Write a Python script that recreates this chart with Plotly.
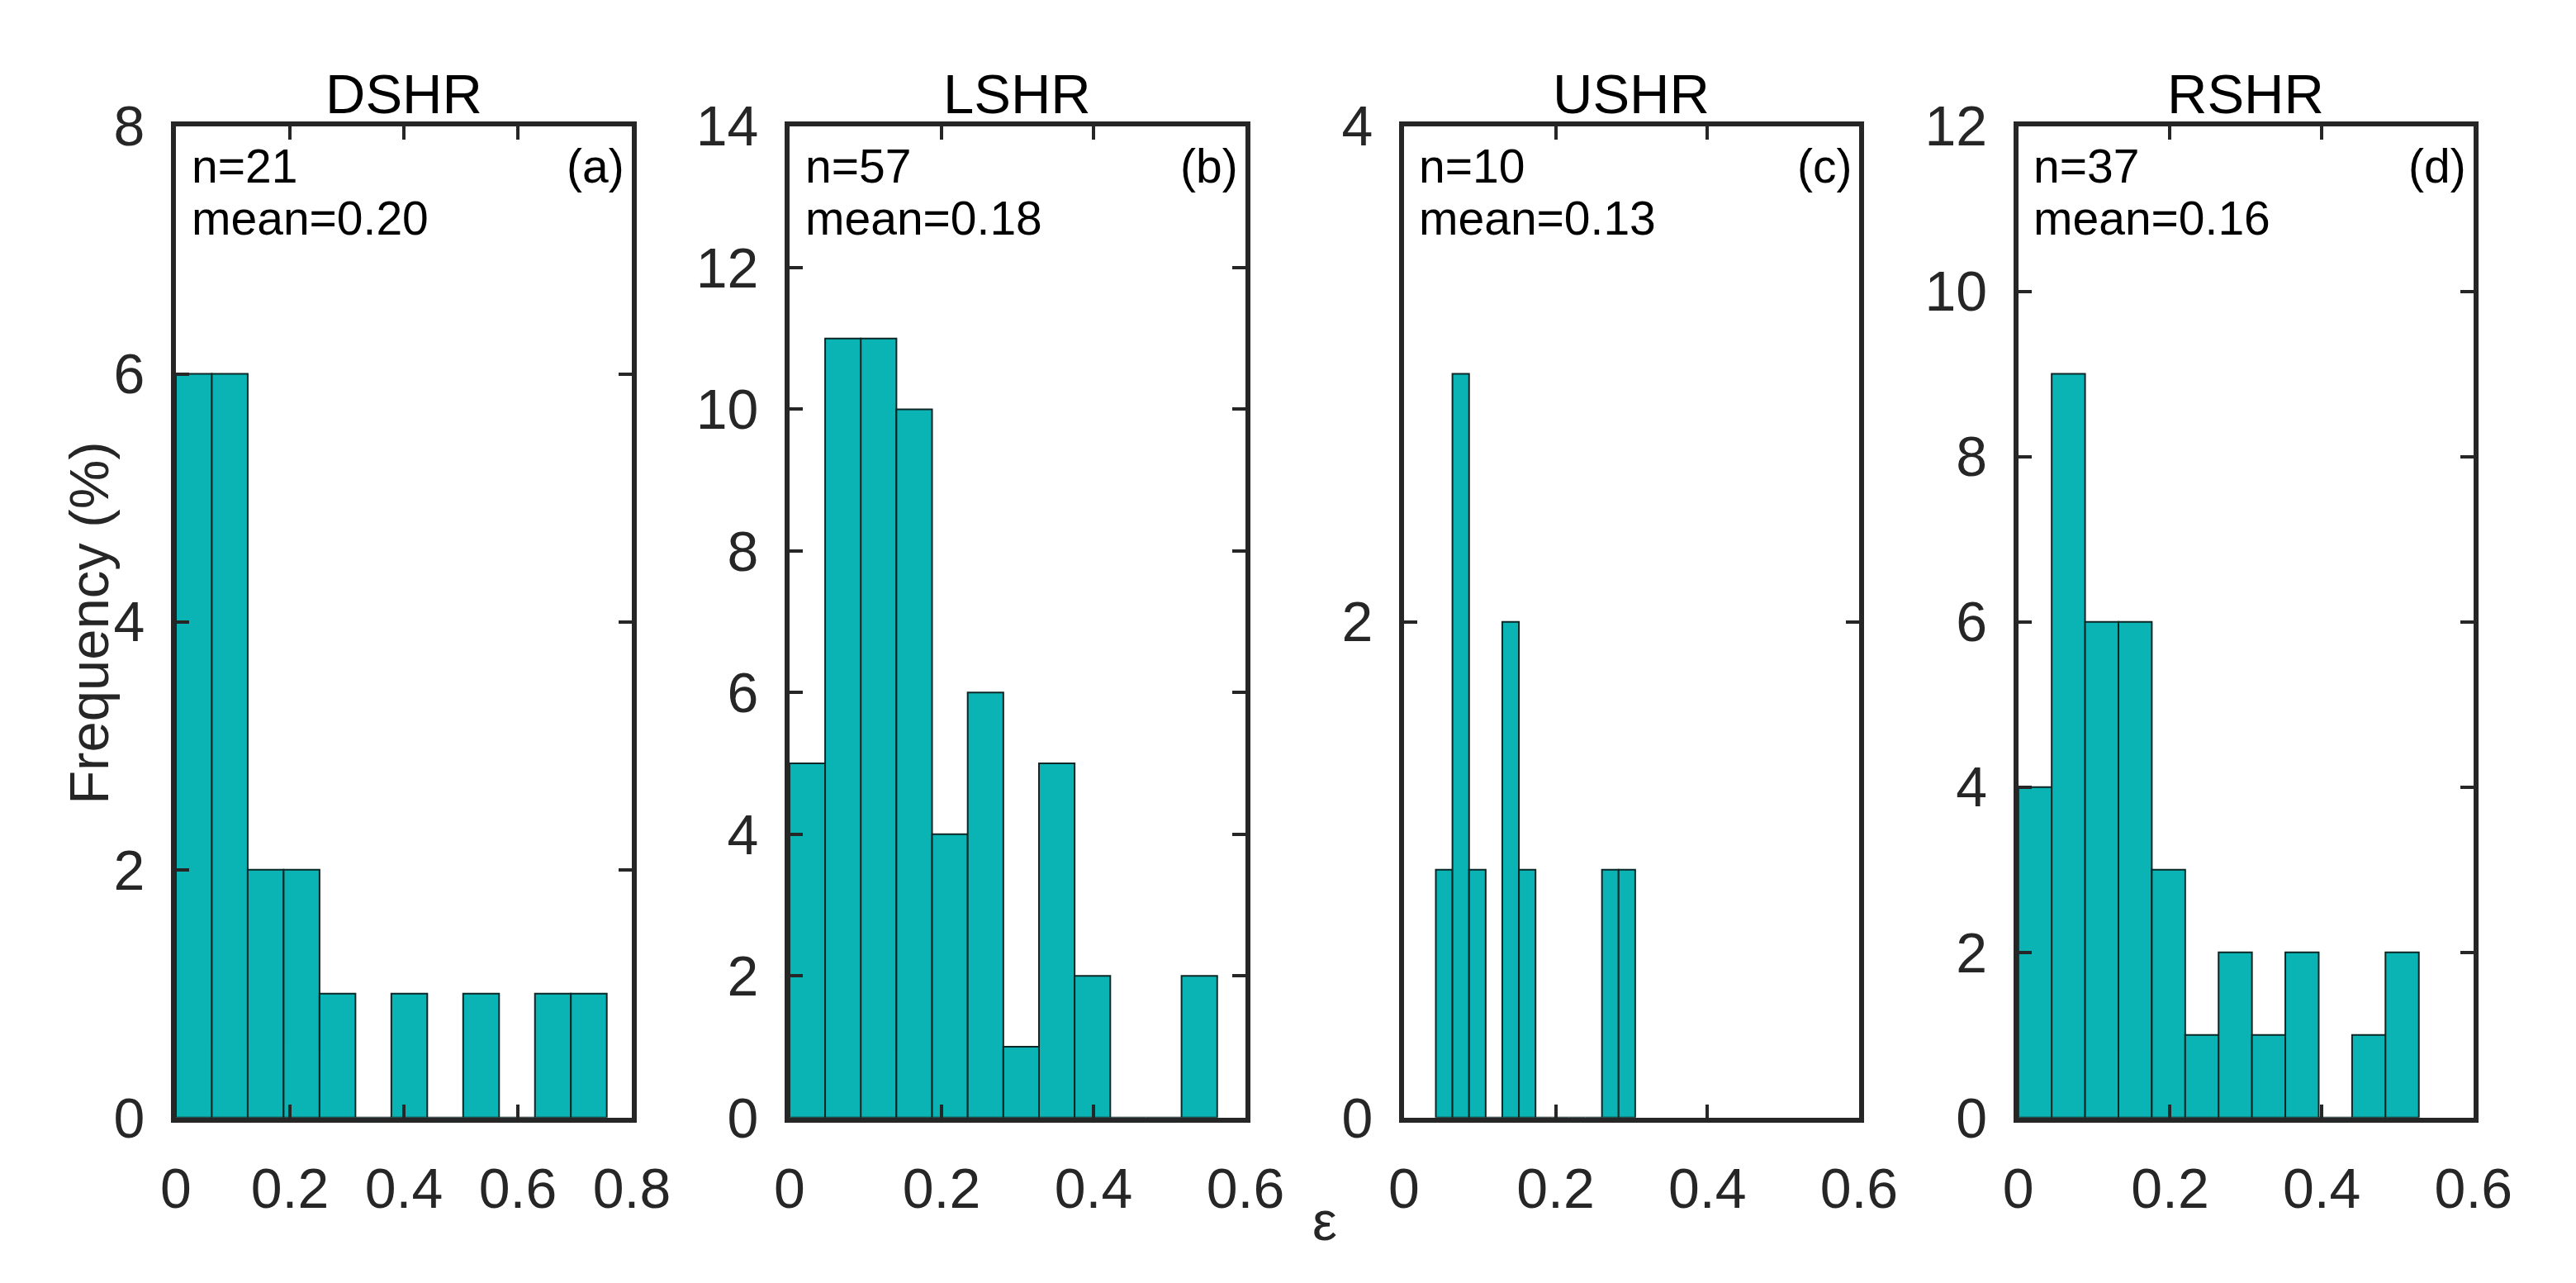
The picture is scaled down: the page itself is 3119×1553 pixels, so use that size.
import plotly.graph_objects as go

W, H = 3119, 1553

titles = ["DSHR", "LSHR", "USHR", "RSHR"]
panel_tags = ["(a)", "(b)", "(c)", "(d)"]
n_labels = ["n=21", "n=57", "n=10", "n=37"]
mean_labels = ["mean=0.20", "mean=0.18", "mean=0.13", "mean=0.16"]

edges_a = [0, 0.063, 0.126, 0.189, 0.252, 0.315, 0.378, 0.441, 0.504, 0.567, 0.630, 0.693, 0.756]
counts_a = [6, 6, 2, 2, 1, 0, 1, 0, 1, 0, 1, 1]

edges_b = [0, 0.0469, 0.0938, 0.1407, 0.1876, 0.2345, 0.2814, 0.3283, 0.3752, 0.4221, 0.469, 0.5159, 0.5628]
counts_b = [5, 11, 11, 10, 4, 6, 1, 5, 2, 0, 0, 2]

edges_c = [0.0421, 0.064, 0.0859, 0.1078, 0.1297, 0.1516, 0.1735, 0.1954, 0.2173, 0.2392, 0.2611, 0.283, 0.3049]
counts_c = [1, 3, 1, 0, 2, 1, 0, 0, 0, 0, 1, 1]

edges_d = [0, 0.044, 0.088, 0.132, 0.176, 0.22, 0.264, 0.308, 0.352, 0.396, 0.44, 0.484, 0.528]
counts_d = [4, 9, 6, 6, 3, 1, 2, 1, 2, 0, 1, 2]

x_ranges = [[0, 0.8], [0, 0.6], [0, 0.6], [0, 0.6]]
x_ticks = [[0, 0.2, 0.4, 0.6, 0.8], [0, 0.2, 0.4, 0.6], [0, 0.2, 0.4, 0.6], [0, 0.2, 0.4, 0.6]]
y_ranges = [[0, 8], [0, 14], [0, 4], [0, 12]]
y_dticks = [2, 2, 2, 2]

x_label = "ε"
y_label = "Frequency (%)"

edges_all = [edges_a, edges_b, edges_c, edges_d]
counts_all = [counts_a, counts_b, counts_c, counts_d]

# layout geometry (pixels)
lefts = [190, 949, 1709, 2469]
rights = [754, 1513, 2272, 3032]
top_px, bot_px = 112, 1374

FONT = "Liberation Sans, Arial, Helvetica, sans-serif"
TEAL = "#0bb4b4"
FRAME = "#262626"

fig = go.Figure()
layout = dict(
    width=W, height=H,
    margin=dict(l=0, r=0, t=0, b=0),
    paper_bgcolor="white", plot_bgcolor="white",
    showlegend=False,
    font=dict(family=FONT, color=FRAME),
    barmode="overlay",
)
annotations = []
ydom = [1 - bot_px / H, 1 - top_px / H]

for i in range(4):
    sfx = "" if i == 0 else str(i + 1)
    e = edges_all[i]
    c = counts_all[i]
    centers = [(e[k] + e[k + 1]) / 2 for k in range(len(c))]
    widths = [e[k + 1] - e[k] for k in range(len(c))]
    fig.add_trace(go.Bar(
        x=centers, y=c, width=widths,
        marker=dict(color=TEAL, line=dict(color="#0d2626", width=2)),
        xaxis="x" + sfx, yaxis="y" + sfx,
        hoverinfo="skip",
    ))
    xdom = [lefts[i] / W, rights[i] / W]
    common = dict(
        showline=True, linewidth=6, linecolor=FRAME, mirror="ticks",
        ticks="inside", ticklen=16, tickwidth=4, tickcolor=FRAME,
        showgrid=False, zeroline=False,
        tickfont=dict(family=FONT, size=68, color=FRAME),
        fixedrange=True,
    )
    layout["xaxis" + sfx] = dict(
        domain=xdom, anchor="y" + sfx, range=x_ranges[i],
        tickmode="array", tickvals=x_ticks[i],
        ticktext=[("%g" % v) for v in x_ticks[i]],
        ticklabelstandoff=22,
        **common,
    )
    layout["yaxis" + sfx] = dict(
        domain=ydom, anchor="x" + sfx, range=y_ranges[i],
        dtick=y_dticks[i], tick0=0,
        ticklabelstandoff=18,
        **common,
    )
    cx = (lefts[i] + rights[i]) / 2 / W
    annotations.append(dict(
        text=titles[i], x=cx, y=ydom[1], xref="paper", yref="paper",
        xanchor="center", yanchor="bottom", showarrow=False,
        font=dict(family=FONT, size=67, color="#000000"),
    ))
    annotations.append(dict(
        text=n_labels[i], x=(lefts[i] + 17) / W, y=1 - 163 / H,
        xref="paper", yref="paper", xanchor="left", yanchor="middle",
        showarrow=False, font=dict(family=FONT, size=57, color="#000000"),
    ))
    annotations.append(dict(
        text=mean_labels[i], x=(lefts[i] + 17) / W, y=1 - 229 / H,
        xref="paper", yref="paper", xanchor="left", yanchor="middle",
        showarrow=False, font=dict(family=FONT, size=57, color="#000000"),
    ))
    annotations.append(dict(
        text=panel_tags[i], x=(rights[i] - 7) / W, y=1 - 163 / H,
        xref="paper", yref="paper", xanchor="right", yanchor="middle",
        showarrow=False, font=dict(family=FONT, size=57, color="#000000"),
    ))

annotations.append(dict(
    text=y_label, x=82 / W, y=1 - 745 / H, xref="paper", yref="paper",
    xanchor="center", yanchor="middle", textangle=-90, showarrow=False,
    font=dict(family=FONT, size=67, color=FRAME),
))
annotations.append(dict(
    text=x_label, x=1611 / W, y=1 - 1505 / H, xref="paper", yref="paper",
    xanchor="center", yanchor="middle", showarrow=False,
    font=dict(family=FONT, size=67, color=FRAME),
))
layout["annotations"] = annotations
fig.update_layout(**layout)
fig.write_html("out.html")
